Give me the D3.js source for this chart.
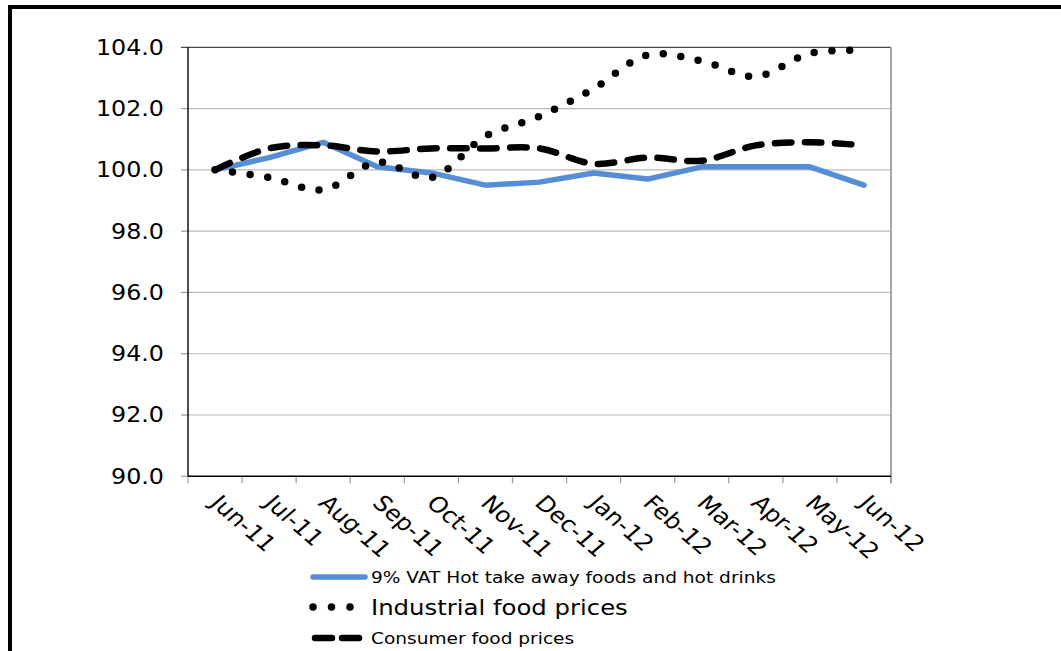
<!DOCTYPE html>
<html><head><meta charset="utf-8">
<script src="https://cdn.jsdelivr.net/npm/d3@7"></script>
<style>body{margin:0;background:#fff} svg{display:block}</style>
</head><body>
<svg id="c" width="1061" height="651"></svg>
<script>
const months = ["Jun-11","Jul-11","Aug-11","Sep-11","Oct-11","Nov-11","Dec-11","Jan-12","Feb-12","Mar-12","Apr-12","May-12","Jun-12"];
const vatHot = [100.0,100.4,100.9,100.1,99.9,99.5,99.6,99.9,99.7,100.1,100.1,100.1,99.5];
const industrial = [100.0,99.75,99.35,100.25,99.75,101.1,101.75,102.65,103.75,103.55,103.05,103.8,103.9];
const consumer = [100.0,100.7,100.8,100.6,100.7,100.7,100.7,100.2,100.4,100.3,100.8,100.9,100.8];
const yTicks = [90,92,94,96,98,100,102,104];
const seriesNames = ["9% VAT Hot take away foods and hot drinks","Industrial food prices","Consumer food prices"];

const FONT = "DejaVu Sans, Verdana, sans-serif";
const SX = 1.16;
const svg = d3.select("#c");
const m = {left:188, right:891, top:47.3, bottom:476.3};

// outer frame
svg.append("rect").attr("x",10).attr("y",7).attr("width",1200).attr("height",900)
  .attr("fill","none").attr("stroke","#000").attr("stroke-width",4);

const x = d3.scaleBand().domain(months).range([m.left, m.right]).padding(0);
const xc = d => x(d) + x.bandwidth()/2;
const y = d3.scaleLinear().domain([90,104]).range([m.bottom, m.top]);

// gridlines
svg.append("g").selectAll("line").data(yTicks.filter(v => v>90 && v<104)).join("line")
  .attr("x1", m.left).attr("x2", m.right)
  .attr("y1", d => y(d)).attr("y2", d => y(d))
  .attr("stroke","#b8b8b8").attr("stroke-width",1.2);
// top border line
svg.append("line").attr("x1",m.left-7).attr("x2",m.right).attr("y1",y(104)).attr("y2",y(104))
  .attr("stroke","#4a4a4a").attr("stroke-width",1.3);
// right border
svg.append("line").attr("x1",m.right).attr("x2",m.right).attr("y1",m.top).attr("y2",m.bottom+7)
  .attr("stroke","#a8a8a8").attr("stroke-width",2);

// y ticks
svg.append("g").selectAll("line").data(yTicks.filter(v=>v<104)).join("line")
  .attr("x1", m.left-7).attr("x2", m.left)
  .attr("y1", d => y(d)).attr("y2", d => y(d))
  .attr("stroke","#999").attr("stroke-width",1.2);
// x ticks at band boundaries
const bounds = months.map(d => x(d)).concat([m.right]);
svg.append("g").selectAll("line").data(bounds).join("line")
  .attr("x1", d=>d).attr("x2", d=>d).attr("y1", m.bottom).attr("y2", m.bottom+7)
  .attr("stroke","#999").attr("stroke-width",1.2);

// axes lines
svg.append("line").attr("x1",m.left).attr("x2",m.left).attr("y1",m.top).attr("y2",m.bottom)
  .attr("stroke","#000").attr("stroke-width",1.4);
svg.append("line").attr("x1",m.left).attr("x2",m.right).attr("y1",m.bottom).attr("y2",m.bottom)
  .attr("stroke","#000").attr("stroke-width",1.4);

// y labels
const fmt = d3.format(".1f");
svg.append("g").selectAll("text").data(yTicks).join("text")
  .attr("transform", d => `translate(164,${y(d)}) scale(${SX},1)`)
  .attr("text-anchor","end").attr("dy","0.36em")
  .attr("font-family",FONT).attr("font-size",20.5).attr("fill","#000")
  .text(d => fmt(d));

// x labels
svg.append("g").selectAll("text").data(months).join("text")
  .attr("transform", d => `translate(${xc(d)-6},${m.bottom+28}) scale(${SX},1) rotate(45)`)
  .attr("text-anchor","start")
  .attr("font-family",FONT).attr("font-size",21.5).attr("fill","#000")
  .text(d => d);

// lines
const lineLin = d3.line().x((d,i)=>xc(months[i])).y(d=>y(d));
const lineSmooth = d3.line().x((d,i)=>xc(months[i])).y(d=>y(d)).curve(d3.curveCatmullRom.alpha(0.5));

svg.append("path").datum(vatHot).attr("d", lineLin)
  .attr("fill","none").attr("stroke","#558ED5").attr("stroke-width",5.5)
  .attr("stroke-linejoin","round").attr("stroke-linecap","round");
svg.append("path").datum(consumer).attr("d", lineSmooth)
  .attr("fill","none").attr("stroke","#000").attr("stroke-width",6.5)
  .attr("stroke-dasharray","16.5 13.5").attr("stroke-linecap","round");
svg.append("path").datum(industrial).attr("d", lineSmooth)
  .attr("fill","none").attr("stroke","#000").attr("stroke-width",7.5)
  .attr("stroke-dasharray","0 17.7").attr("stroke-linecap","round");

// legend
const lg = svg.append("g");
lg.append("line").attr("x1",313).attr("x2",365).attr("y1",577).attr("y2",577)
  .attr("stroke","#558ED5").attr("stroke-width",5.5).attr("stroke-linecap","round");
lg.append("line").attr("x1",313).attr("x2",352).attr("y1",607).attr("y2",607)
  .attr("stroke","#000").attr("stroke-width",7.5).attr("stroke-dasharray","0 18.5").attr("stroke-linecap","round");
lg.append("line").attr("x1",315).attr("x2",360).attr("y1",638).attr("y2",638)
  .attr("stroke","#000").attr("stroke-width",6.5).attr("stroke-dasharray","17 10").attr("stroke-linecap","round");
const legendRows = [{y:583, size:16},{y:615, size:21},{y:644, size:16}];
lg.selectAll("text").data(seriesNames).join("text")
  .attr("transform", (d,i) => `translate(371,${legendRows[i].y}) scale(${SX},1)`)
  .attr("font-family",FONT).attr("font-size",(d,i)=>legendRows[i].size).attr("fill","#000")
  .text(d => d);
</script>
</body></html>
